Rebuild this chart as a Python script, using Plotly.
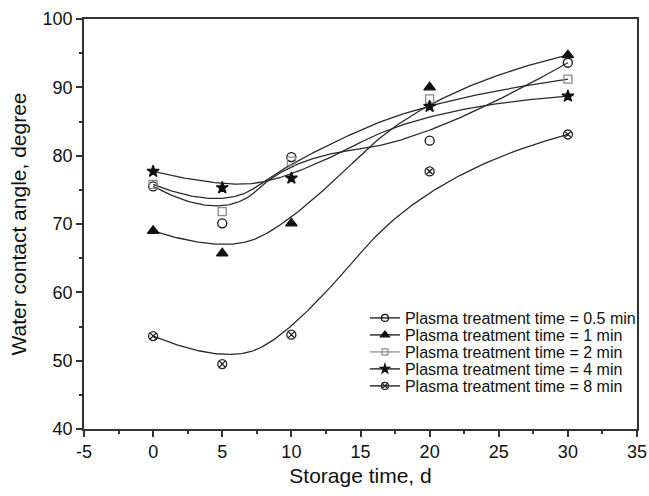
import numpy as np
import plotly.graph_objects as go

storage_days = [0, 5, 10, 20, 30]
angle_05min = [75.5, 70.1, 79.8, 82.2, 93.6]
angle_1min = [69.0, 65.7, 70.1, 90.0, 94.7]
angle_2min = [75.8, 71.8, 79.2, 88.3, 91.2]
angle_4min = [77.7, 75.3, 76.7, 87.2, 88.7]
angle_8min = [53.6, 49.5, 53.8, 77.7, 83.1]

series_names = [
    "Plasma treatment time = 0.5 min",
    "Plasma treatment time = 1 min",
    "Plasma treatment time = 2 min",
    "Plasma treatment time = 4 min",
    "Plasma treatment time = 8 min",
]
x_ticks = [-5, 0, 5, 10, 15, 20, 25, 30, 35]
y_ticks = [40, 50, 60, 70, 80, 90, 100]


def bspline(xs, ys, n=200, k=2):
    """Clamped B-spline using the data points as control points."""
    P = np.column_stack([xs, ys]).astype(float)
    m = len(P)
    inner = np.arange(1, m - k)
    knots = np.concatenate([np.zeros(k + 1), inner, np.full(k + 1, m - k)]).astype(float)
    ts = np.linspace(0, m - k, n)

    def basis(i, p, t):
        if p == 0:
            if knots[i] <= t < knots[i + 1]:
                return 1.0
            if t == knots[-1] and knots[i] < t == knots[i + 1]:
                return 1.0
            return 0.0
        a = 0.0
        d1 = knots[i + p] - knots[i]
        if d1 > 0:
            a = (t - knots[i]) / d1 * basis(i, p - 1, t)
        b = 0.0
        d2 = knots[i + p + 1] - knots[i + 1]
        if d2 > 0:
            b = (knots[i + p + 1] - t) / d2 * basis(i + 1, p - 1, t)
        return a + b

    out = []
    for t in ts:
        w = np.array([basis(i, k, t) for i in range(m)])
        out.append(w @ P)
    out = np.array(out)
    return out[:, 0], out[:, 1]


series = [angle_05min, angle_1min, angle_2min, angle_4min, angle_8min]
symbols = ["circle-open", "triangle-up", "square-open", "star", "circle-x-open"]
sizes = [9, 10, 8, 9, 9]
mcolors = ["#111111", "#111111", "#8a8a8a", "#111111", "#222222"]
lcolors = ["#222222", "#222222", "#9a9a9a", "#222222", "#222222"]
line_color = "#2a2a2a"

fig = go.Figure()
for idx, (ys, name, sym, sz, mc, lc) in enumerate(zip(series, series_names, symbols, sizes, mcolors, lcolors)):
    cx, cy = bspline(storage_days, ys)
    fig.add_trace(go.Scatter(x=cx, y=cy, mode="lines", line=dict(color=line_color, width=1.3),
                             showlegend=False, hoverinfo="skip"))
    fig.add_trace(go.Scatter(x=storage_days, y=ys, mode="markers",
                             marker=dict(symbol=sym, size=sz, color=mc,
                                         line=dict(color=mc, width=1.3)),
                             showlegend=False))
    leg = "legend" if idx == 0 else f"legend{idx + 1}"
    fig.add_trace(go.Scatter(x=[None], y=[None], mode="lines+markers", name=name,
                             line=dict(color=lc, width=1.4),
                             marker=dict(symbol=sym, size=sz - 2, color=mc,
                                         line=dict(color=mc, width=1.2)),
                             legend=leg))

font_family = "Liberation Sans, Arial, sans-serif"
legend_common = dict(font=dict(family=font_family, size=16, color="#111111"),
                     bgcolor="rgba(0,0,0,0)", borderwidth=0,
                     xanchor="left", yanchor="middle", x=0.508,
                     itemwidth=30, tracegroupgap=0)
ys_leg = [318.0, 335.0, 352.0, 369.0, 386.0]
layout_legends = {}
for i, py in enumerate(ys_leg):
    key = "legend" if i == 0 else f"legend{i + 1}"
    yp = (429 - py) / (429 - 19)
    layout_legends[key] = dict(legend_common, y=yp)

fig.update_layout(
    width=649, height=496,
    margin=dict(l=84, r=12, t=19, b=67, autoexpand=False),
    paper_bgcolor="white", plot_bgcolor="white",
    font=dict(family=font_family, color="#111111"),
    **layout_legends,
)
fig.update_xaxes(range=[-5, 35], tickvals=x_ticks, ticktext=[str(v) for v in x_ticks],
                 ticks="outside", ticklen=6, tickwidth=1.5, tickcolor="#333333",
                 minor=dict(dtick=2.5, tick0=-5, ticks="outside", ticklen=3, tickwidth=1.5, tickcolor="#333333"),
                 showline=True, linecolor="#333333", linewidth=1.6, mirror=True,
                 showgrid=False, zeroline=False,
                 tickfont=dict(size=18, family=font_family, color="#111111"),
                 title=dict(text="Storage time, d", font=dict(size=21, family=font_family, color="#111111"),
                            standoff=7))
fig.update_yaxes(range=[40, 100], tickvals=y_ticks, ticktext=[str(v) for v in y_ticks],
                 ticks="outside", ticklen=6, tickwidth=1.5, tickcolor="#333333",
                 minor=dict(dtick=5, tick0=40, ticks="outside", ticklen=3, tickwidth=1.5, tickcolor="#333333"),
                 showline=True, linecolor="#333333", linewidth=1.6, mirror=True,
                 showgrid=False, zeroline=False,
                 tickfont=dict(size=18, family=font_family, color="#111111"),
                 title=dict(text="Water contact angle, degree", font=dict(size=21, family=font_family, color="#111111"),
                            standoff=10))

fig.write_html("out.html")
